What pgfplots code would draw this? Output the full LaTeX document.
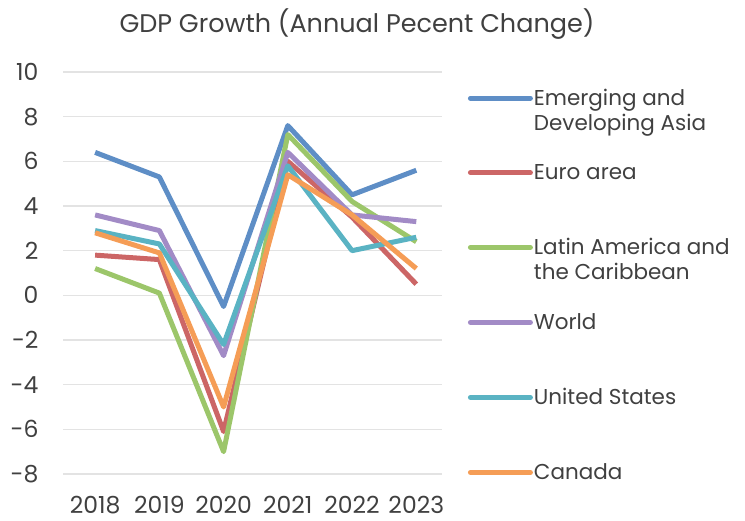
\documentclass[border=0pt]{standalone}
\usepackage{pgfplots}
\pgfplotsset{compat=1.18}
\usepackage{fontspec}
\setmainfont{Poppins}
\definecolor{txt}{HTML}{404040}
\definecolor{cAsia}{HTML}{5E8EC6}
\definecolor{cEuro}{HTML}{CC6666}
\definecolor{cLat}{HTML}{9CC66A}
\definecolor{cWorld}{HTML}{A28BC6}
\definecolor{cUS}{HTML}{5AB3C3}
\definecolor{cCan}{HTML}{F59D56}
\definecolor{gridc}{HTML}{E3E3E3}
\newcommand{\legtxt}[1]{\parbox[t]{220pt}{\raggedright #1}}
\begin{document}
\begin{tikzpicture}[x=1pt,y=1pt]
\path[use as bounding box] (0,0) rectangle (745,521);
\node[text=txt, font=\fontsize{25.5}{30}\selectfont] at (357,497) {GDP Growth (Annual Pecent Change)};
\begin{axis}[
  at={(63pt,47pt)}, anchor=south west,
  scale only axis, width=379pt, height=402pt,
  xmin=-0.5, xmax=5.4, ymin=-8, ymax=10,
  axis line style={draw=none},
  xtick={0,1,2,3,4,5},
  xticklabels={2018,2019,2020,2021,2022,2023},
  ytick={-8,-6,...,10},
  tick style={draw=none},
  ymajorgrids, grid style={gridc, line width=1.2pt},
  tick label style={text=txt, font=\fontsize{23.5}{27}\selectfont},
  /pgf/number format/assume math mode=true,
  yticklabel style={xshift=-21pt},
  xticklabel style={yshift=-19pt},
  legend cell align=left,
  legend style={draw=none, fill=none, at={(1.06,0.965)}, anchor=north west,
    font=\fontsize{21.5}{25}\selectfont, text=txt, row sep=55.4pt,
    nodes={inner sep=1pt}},
  legend image code/.code={\draw[#1, line width=5pt, line cap=round] (0pt,0pt) -- (60pt,0pt);},
  every axis plot/.append style={line width=5pt, line join=round, mark=none},
  clip=false,
]
\addplot[cAsia] coordinates {(0,6.4)(1,5.3)(2,-0.5)(3,7.6)(4,4.5)(5,5.6)};
\addlegendentry{\legtxt{Emerging and\\Developing Asia}}
\addplot[cEuro] coordinates {(0,1.8)(1,1.6)(2,-6.1)(3,6.0)(4,3.5)(5,0.5)};
\addlegendentry{\legtxt{Euro area}}
\addplot[cLat] coordinates {(0,1.2)(1,0.1)(2,-7.0)(3,7.2)(4,4.2)(5,2.4)};
\addlegendentry{\legtxt{Latin America and\\the Caribbean}}
\addplot[cWorld] coordinates {(0,3.6)(1,2.9)(2,-2.7)(3,6.4)(4,3.6)(5,3.3)};
\addlegendentry{\legtxt{World}}
\addplot[cUS] coordinates {(0,2.9)(1,2.3)(2,-2.2)(3,5.8)(4,2.0)(5,2.6)};
\addlegendentry{\legtxt{United States}}
\addplot[cCan] coordinates {(0,2.8)(1,1.9)(2,-5.0)(3,5.4)(4,3.6)(5,1.2)};
\addlegendentry{\legtxt{Canada}}
\end{axis}
\end{tikzpicture}
\end{document}
